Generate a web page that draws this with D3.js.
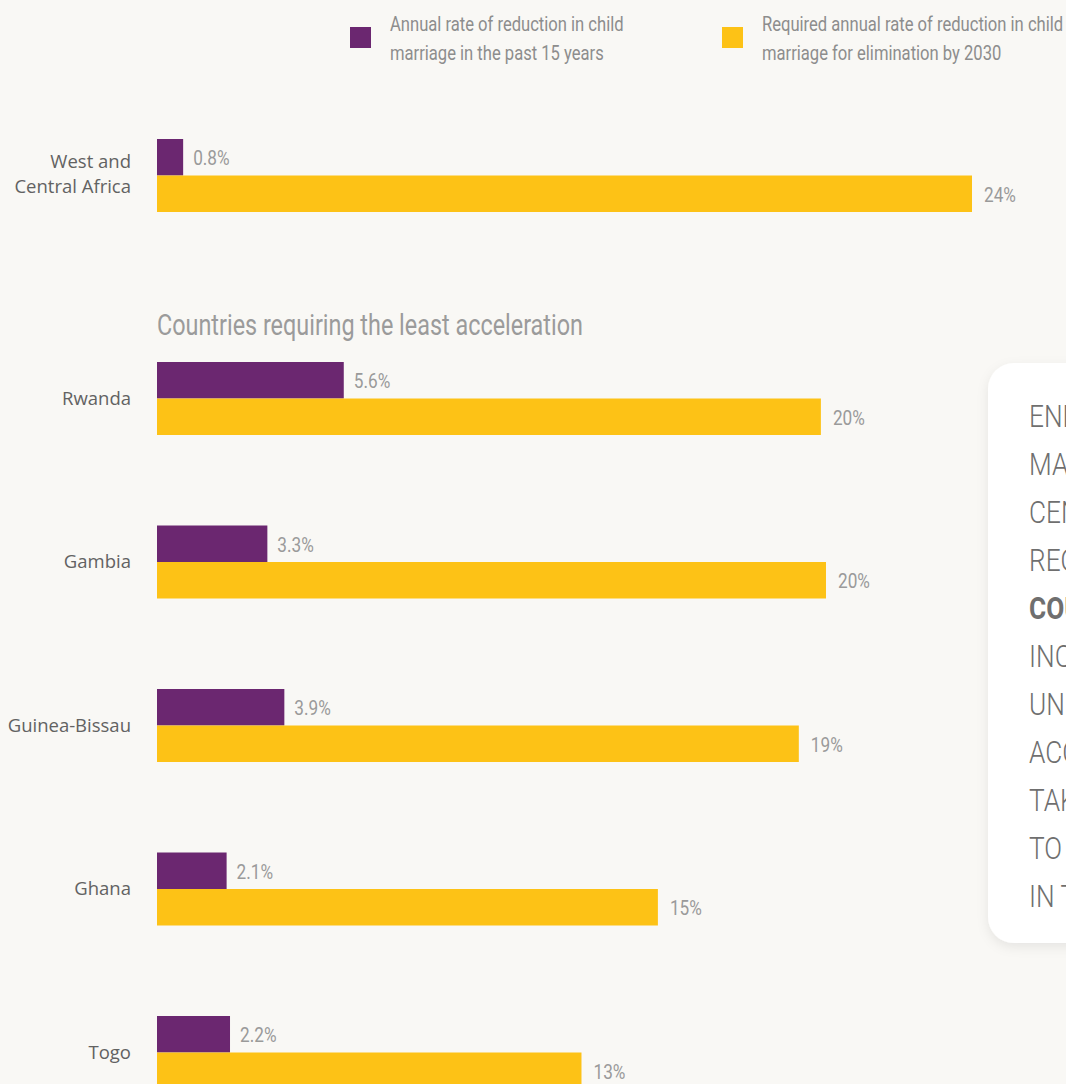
<!DOCTYPE html>
<html>
<head>
<meta charset="utf-8">
<script src="https://cdn.jsdelivr.net/npm/d3@7"></script>
<style>
  html, body { margin: 0; padding: 0; background: #f9f8f5; }
  svg { display: block; }
  .cat { font-family: "Open Sans", sans-serif; font-size: 18.5px; fill: #626262; }
  .val { font-family: "Roboto", sans-serif; font-size: 21px; fill: #9a9a9a; }
  .legend { font-family: "Roboto", sans-serif; font-size: 20px; fill: #8d8d8d; }
  .heading { font-family: "Roboto", sans-serif; font-size: 30px; fill: #9b9b9b; }
  .callout { font-family: "Roboto", sans-serif; font-weight: 300; font-size: 32px; fill: #6f6f6f; }
</style>
</head>
<body>
<div id="chart"></div>
<script>
// regional row
var regionName = ["West and", "Central Africa"];
var regionPast = 0.77;
var regionRequired = 24.0;
var regionPastLabel = "0.8%";
var regionRequiredLabel = "24%";

// countries requiring the least acceleration
var countries = ["Rwanda", "Gambia", "Guinea-Bissau", "Ghana", "Togo"];
var pastRate = [5.5, 3.25, 3.75, 2.05, 2.15];
var requiredRate = [19.55, 19.7, 18.9, 14.75, 12.5];
var pastLabels = ["5.6%", "3.3%", "3.9%", "2.1%", "2.2%"];
var requiredLabels = ["20%", "20%", "19%", "15%", "13%"];

var legendLabels = [
    ["Annual rate of reduction in child", "marriage in the past 15 years"],
    ["Required annual rate of reduction in child", "marriage for elimination by 2030"]
];
var calloutLines = ["ENDING CHILD", "MARRIAGE IN WEST AND", "CENTRAL AFRICA", "REQUIRES",
    "COUNTRIES", "INCREASING", "UNPRECEDENTED", "ACCELERATION", "TAKING", "TO SCALE", "IN THE REGION"];

var width = 1066, height = 1084;
var purple = "#6b2770", yellow = "#fdc216";
var barH = 36.5;

var svg = d3.select("#chart").append("svg")
    .attr("width", width)
    .attr("height", height);

svg.append("rect").attr("width", width).attr("height", height).attr("fill", "#f9f8f5");

var x = d3.scaleLinear().domain([0, 24]).range([157, 972]);
var y = d3.scalePoint().domain(countries).range([362, 1016]);

// condensed look: squeeze text horizontally around its anchor
function narrow(sel, px, py, k){
    sel.attr("transform", "translate(" + px + "," + py + ") scale(" + k + ",1)");
}

// legend
var legend = svg.append("g");
var legendX = [350, 722];
legendLabels.forEach(function(lines, i){
    legend.append("rect")
        .attr("x", legendX[i]).attr("y", 27)
        .attr("width", 21).attr("height", 21)
        .attr("fill", i === 0 ? purple : yellow);
    lines.forEach(function(l, j){
        legend.append("text")
            .attr("class", "legend")
            .call(narrow, legendX[i] + 40, 31 + j * 29, 0.83)
            .text(l);
    });
});

// draws one pair of bars with labels, top = top of purple bar
function drawPair(g, top, past, required, pastLabel, requiredLabel){
    g.append("rect")
        .attr("x", x(0)).attr("y", top)
        .attr("width", x(past) - x(0)).attr("height", barH)
        .attr("fill", purple);
    g.append("rect")
        .attr("x", x(0)).attr("y", top + barH)
        .attr("width", x(required) - x(0)).attr("height", barH)
        .attr("fill", yellow);
    g.append("text")
        .attr("class", "val")
        .call(narrow, x(past) + 10, top + barH / 2 + 8, 0.82)
        .text(pastLabel);
    g.append("text")
        .attr("class", "val")
        .call(narrow, x(required) + 12, top + barH * 1.5 + 8, 0.82)
        .text(requiredLabel);
}

// region
var region = svg.append("g");
drawPair(region, 139, regionPast, regionRequired, regionPastLabel, regionRequiredLabel);
regionName.forEach(function(l, j){
    region.append("text")
        .attr("class", "cat")
        .attr("x", 131).attr("y", 168 + j * 25)
        .attr("text-anchor", "end")
        .text(l);
});

svg.append("text")
    .attr("class", "heading")
    .call(narrow, 157, 335, 0.78)
    .text("Countries requiring the least acceleration");

// countries
var rows = svg.selectAll(".row")
    .data(countries)
    .enter().append("g")
    .attr("class", "row");

rows.each(function(c, i){
    var g = d3.select(this);
    drawPair(g, y(c), pastRate[i], requiredRate[i], pastLabels[i], requiredLabels[i]);
    g.append("text")
        .attr("class", "cat")
        .attr("x", 131)
        .attr("y", y(c) + barH + 6)
        .attr("text-anchor", "end")
        .text(c);
});

// callout box
var defs = svg.append("defs");
var f = defs.append("filter").attr("id", "shadow")
    .attr("x", "-20%").attr("y", "-10%").attr("width", "140%").attr("height", "130%");
f.append("feDropShadow")
    .attr("dx", 0).attr("dy", 4).attr("stdDeviation", 6)
    .attr("flood-color", "#000").attr("flood-opacity", 0.08);

var callout = svg.append("g");
callout.append("rect")
    .attr("x", 988).attr("y", 363)
    .attr("width", 200).attr("height", 580)
    .attr("rx", 26)
    .attr("fill", "#ffffff")
    .attr("filter", "url(#shadow)");
calloutLines.forEach(function(l, j){
    callout.append("text")
        .attr("class", "callout")
        .call(narrow, 1029, 427 + j * 48, 0.82)
        .style("font-weight", j === 4 ? 700 : 300)
        .text(l);
});
</script>
</body>
</html>
